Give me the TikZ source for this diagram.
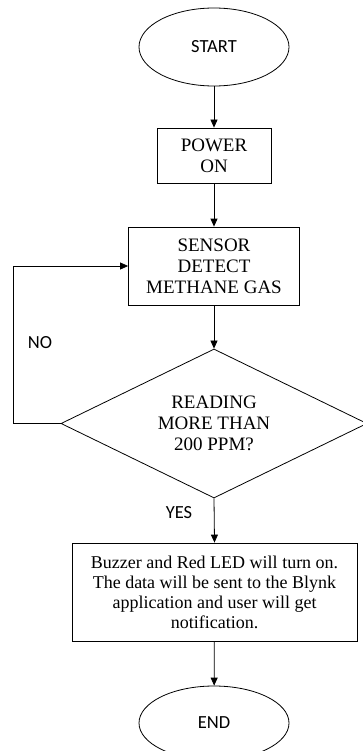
\documentclass[tikz,border=0pt]{standalone}
\usepackage{fontspec}
\setmainfont{Liberation Serif}
\newfontfamily\labelfont{Carlito}
\usetikzlibrary{shapes.geometric,arrows.meta}
\tikzset{every path/.style={black,line width=0.8pt},
  terminal/.style={draw,ellipse,inner sep=0pt,minimum width=150pt,minimum height=78pt,font=\labelfont\fontsize{18.5}{21}\selectfont},
  procbox/.style={draw,rectangle,inner sep=0pt,align=center,font=\fontsize{19}{21}\selectfont},
  decision/.style={draw,diamond,aspect=2.05,inner sep=0pt,minimum width=306pt,minimum height=149pt,align=center,font=\fontsize{19}{21}\selectfont},
  flow/.style={-{Triangle[length=8pt,width=7pt]}},
  branch/.style={font=\labelfont\fontsize{18.5}{21}\selectfont}}

\begin{document}
\begin{tikzpicture}[x=1pt,y=-1pt]
   \useasboundingbox (0,0) rectangle (363,751);
   \node[terminal] (start) at (214,47) {START};
   \node[procbox,minimum width=114pt,minimum height=55pt] (power) at (214,155.5) {POWER\\ON};
   \node[procbox,minimum width=171pt,minimum height=78pt] (sensor) at (214,266) {SENSOR\\DETECT\\METHANE GAS};
   \node[decision] (reading) at (214,423.5) {READING\\MORE THAN\\200 PPM?};
   \node[procbox,minimum width=285pt,minimum height=98pt,font=\fontsize{18}{20}\selectfont] (alert) at (214.5,592)
      {Buzzer and Red LED will turn on.\\The data will be sent to the Blynk\\application and user will get\\notification.};
   \node[terminal,minimum height=74pt] (end) at (214,723) {END};
   \node[branch] (no) at (40,343) {NO};
   \node[branch] (yes) at (179,513) {YES};
   \draw[flow] (start) -- (power);
   \draw[flow] (power) -- (sensor);
   \draw[flow] (sensor) -- (reading);
   \draw[flow] (reading.west) -- ++(-47,0) |- (sensor.west);
   \draw[flow] (reading.south) -- (alert.north);
   \draw[flow] (alert) -- (end);
  \end{tikzpicture}
\end{document}
